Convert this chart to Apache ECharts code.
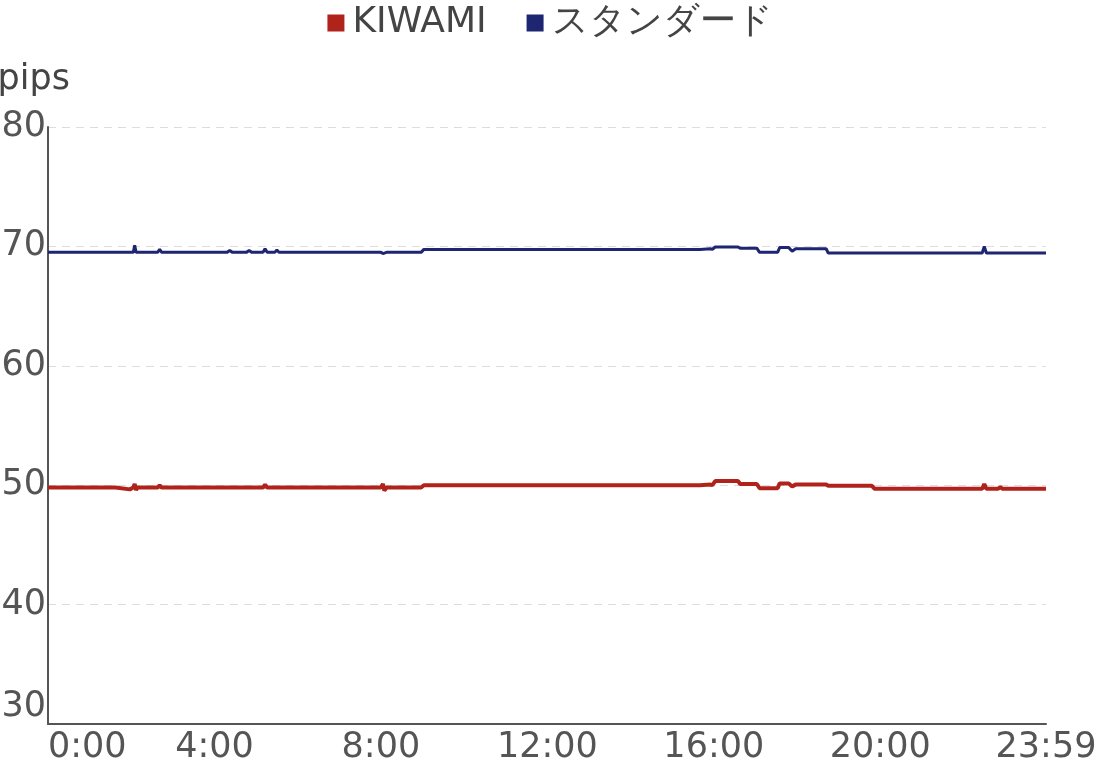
<!DOCTYPE html>
<html>
<head>
<meta charset="utf-8">
<script src="https://cdn.jsdelivr.net/npm/echarts@6/dist/echarts.min.js"></script>
<style>
  html, body { margin: 0; padding: 0; background: #fff; }
  #chart { width: 1100px; height: 761px; }
</style>
</head>
<body>
<div id="chart"></div>
<script>
// 時刻（分） 0:00〜23:59
const times = [
  0, 97, 99, 118, 120, 123, 125, 127, 129, 158,
  161, 164, 258, 262, 266, 286, 290, 294, 310, 313,
  316, 327, 330, 333, 480, 483, 485, 488, 538, 542,
  940, 955, 958, 962, 995, 998, 1022, 1026, 1052, 1055,
  1068, 1073, 1078, 1122, 1125, 1188, 1192, 1347, 1350, 1353,
  1370, 1373, 1376, 1439
]
const kiwami = [
  49.8, 49.8, 49.65, 49.65, 49.8, 49.8, 50.1, 49.6, 49.8, 49.8,
  50.0, 49.8, 49.8, 49.8, 49.8, 49.8, 49.8, 49.8, 49.8, 50.05,
  49.8, 49.8, 49.8, 49.8, 49.8, 50.1, 49.55, 49.8, 49.8, 50.0,
  50.0, 50.05, 50.0, 50.35, 50.35, 50.1, 50.1, 49.75, 49.75, 50.15,
  50.15, 49.9, 50.05, 50.05, 49.95, 49.95, 49.7, 49.7, 50.1, 49.7,
  49.7, 49.85, 49.7, 49.7
]
const standard = [
  69.5, 69.5, 69.5, 69.5, 69.5, 69.5, 70.1, 69.5, 69.5, 69.5,
  69.75, 69.5, 69.5, 69.65, 69.5, 69.5, 69.65, 69.5, 69.5, 69.8,
  69.5, 69.5, 69.7, 69.5, 69.5, 69.4, 69.5, 69.5, 69.5, 69.75,
  69.75, 69.8, 69.75, 69.95, 69.95, 69.85, 69.85, 69.5, 69.5, 69.9,
  69.9, 69.6, 69.8, 69.8, 69.45, 69.45, 69.45, 69.45, 70.0, 69.45,
  69.45, 69.45, 69.45, 69.45
]
const seriesNames = ['KIWAMI', 'スタンダード']
const colors = ['#b0231a', '#1e2571']

const fmtTime = m => {
  const h = Math.floor(m / 60)
  const mm = String(m % 60).padStart(2, '0')
  return h + ':' + mm
}

const chart = echarts.init(document.getElementById('chart'))
const font = 'DejaVu Sans, Verdana, sans-serif'

chart.setOption({
  animation: false,
  color: colors,
  textStyle: { fontFamily: font },
  legend: {
    top: 0,
    left: 'center',
    icon: 'rect',
    itemWidth: 17,
    itemHeight: 17,
    itemGap: 40,
    textStyle: { fontSize: 36, color: '#444', fontFamily: font, padding: [0, 0, 0, 3] },
    data: seriesNames
  },
  grid: { left: 48, right: 54, top: 127, bottom: 37, outerBoundsMode: 'none', containLabel: false },
  xAxis: {
    type: 'value',
    min: 0,
    max: 1439,
    interval: 240,
    axisLine: { lineStyle: { color: '#555', width: 2 } },
    axisTick: { show: false },
    splitLine: { show: false },
    axisLabel: {
      fontSize: 35,
      color: '#555',
      margin: 6,
      alignMinLabel: 'left',
      formatter: v => fmtTime(v)
    }
  },
  yAxis: {
    type: 'value',
    min: 30,
    max: 80,
    interval: 10,
    name: 'pips',
    nameLocation: 'end',
    nameGap: 30,
    nameTextStyle: { fontSize: 35, color: '#444', align: 'right', padding: [0, -22, 0, 0] },
    axisLine: { show: true, lineStyle: { color: '#555', width: 2 } },
    axisTick: { show: false },
    axisLabel: {
      fontSize: 35,
      color: '#555',
      margin: 2,
      verticalAlignMinLabel: 'bottom'
    },
    splitLine: { lineStyle: { color: '#ddd', type: [8, 6], width: 1 } }
  },
  series: [
    {
      name: seriesNames[0],
      type: 'line',
      showSymbol: false,
      lineStyle: { width: 4 },
      data: times.map((t, i) => [t, kiwami[i]])
    },
    {
      name: seriesNames[1],
      type: 'line',
      showSymbol: false,
      lineStyle: { width: 3 },
      data: times.map((t, i) => [t, standard[i]])
    }
  ]
})
</script>
</body>
</html>
